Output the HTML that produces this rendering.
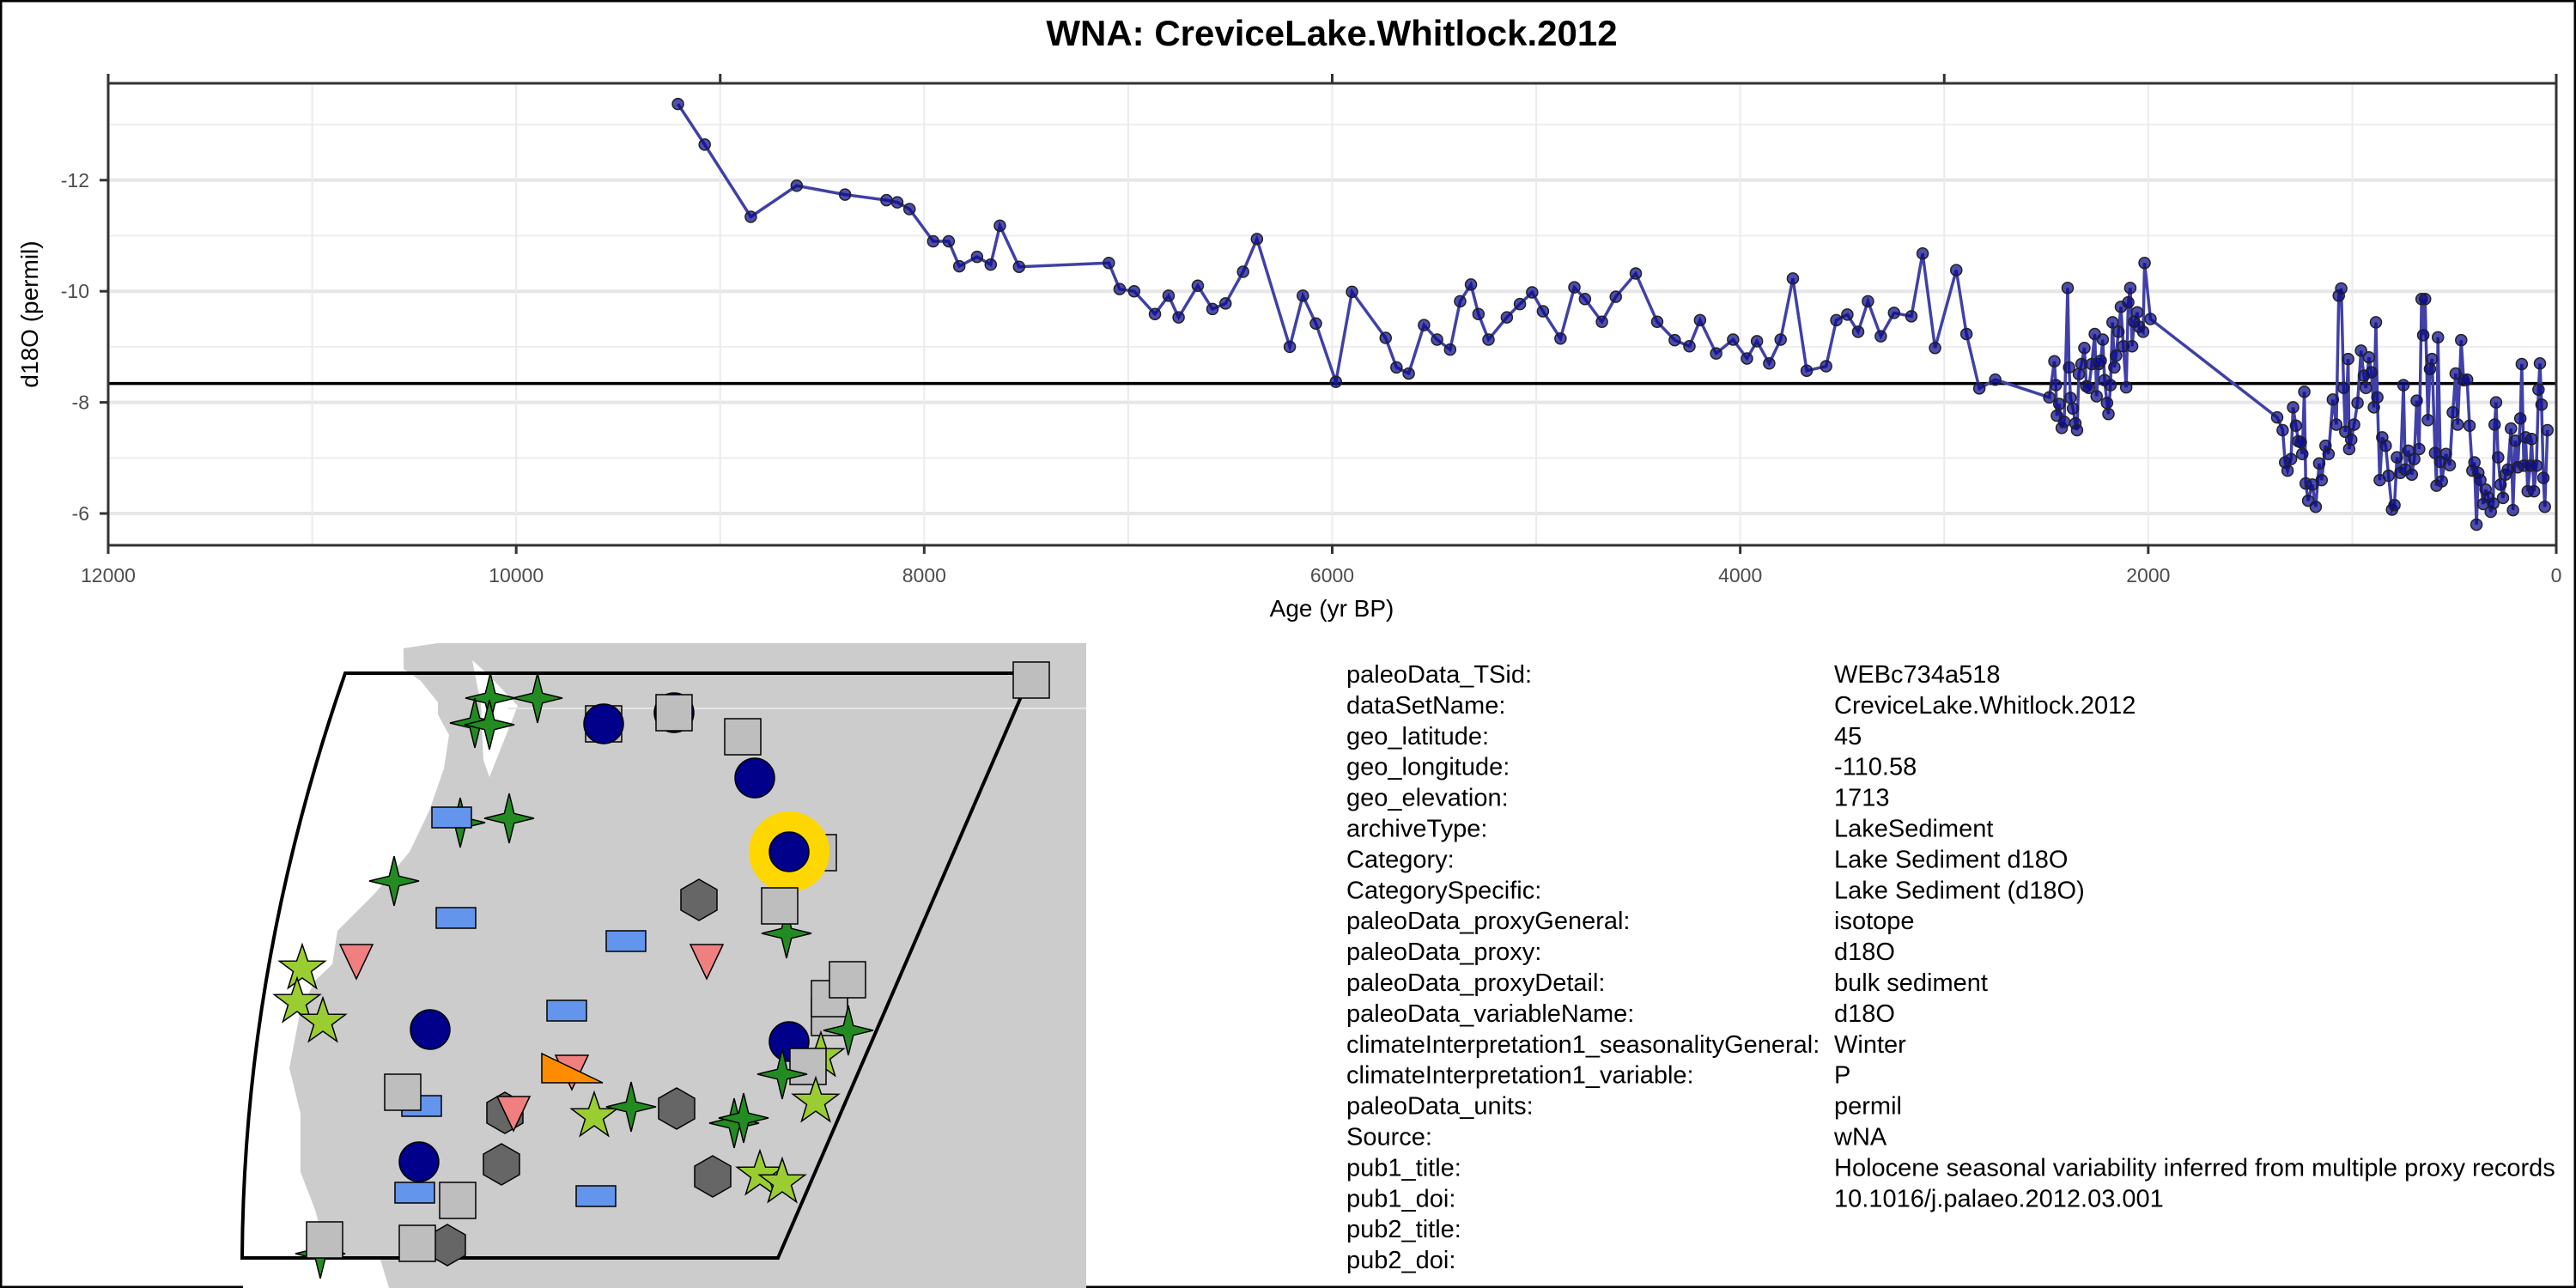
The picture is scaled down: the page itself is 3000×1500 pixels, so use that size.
<!DOCTYPE html>
<html><head><meta charset="utf-8"><style>
html,body{margin:0;padding:0;background:#fff}
svg{display:block}
text{font-family:"Liberation Sans",Arial,sans-serif}
</style></head><body>
<svg id="root" width="3000" height="1500" viewBox="0 0 3000 1500" xmlns="http://www.w3.org/2000/svg">
<rect x="1" y="1" width="2998" height="1498" fill="#fff" stroke="#000" stroke-width="3"/>
<text x="1551" y="53" font-size="42" font-weight="bold" text-anchor="middle">WNA: CreviceLake.Whitlock.2012</text>
<g id="grid"></g>
<g id="refline"></g>
<g id="series"></g>
<g id="axes"></g>
<text x="1551" y="718" font-size="28" text-anchor="middle" fill="#000">Age (yr BP)</text>
<text transform="translate(44,366) rotate(-90)" font-size="28" text-anchor="middle" fill="#000">d18O (permil)</text>

<g id="map">
<rect x="283" y="749" width="982" height="751" fill="#cccccc"/>
<polygon points="283,749 510,749 470,755 470,779 490,793 510,818 510,832 523,856 517,895 500,944 477,992 437,1040 393,1084 387,1123 367,1142 350,1176 337,1244 350,1297 350,1365 367,1409 383,1467 443,1467 453,1500 283,1500" fill="#ffffff"/>
<polygon points="550,769 567,784 603,822 570,905 563,885 560,820" fill="#ffffff"/>
<line x1="592" y1="825" x2="1265" y2="825" stroke="#e6e6e6" stroke-width="2"/>
<path d="M402,784 L1201,784 L906,1465 L282,1465 Q284,1124 402,784 Z" fill="none" stroke="#000" stroke-width="4"/>
<g id="markers"></g>
</g>

<g id="meta" font-size="29" fill="#000"></g>
</svg>
<script>
// ---- chart data ----
const ages = [9207,9076,8850,8625,8388,8185,8132,8072,7956,7880,7828,7741,7674,7629,7535,7095,7042,6971,6869,6802,6753,6659,6587,6523,6437,6369,6208,6144,6080,5982,5903,5738,5685,5625,5550,5486,5422,5373,5320,5283,5234,5144,5080,5020,4967,4881,4813,4761,4678,4610,4512,4407,4321,4249,4197,4118,4035,3967,3918,3858,3802,3742,3674,3579,3529,3475,3422,3374,3311,3246,3161,3106,3045,2941,2891,2828,2750,2485,2460,2453,2448,2436,2424,2412,2395,2388,2381,2369,2357,2349,2340,2327,2313,2303,2291,2277,2262,2253,2243,2233,2223,2214,2202,2195,2185,2175,2166,2158,2146,2134,2122,2108,2098,2088,2079,2069,2054,2045,2025,2018,1989,1368,1341,1329,1317,1300,1290,1276,1264,1252,1245,1235,1228,1216,1196,1179,1162,1150,1131,1116,1095,1078,1066,1054,1042,1034,1020,1015,1005,991,974,957,943,933,918,906,894,884,877,865,853,836,822,805,793,781,764,749,740,725,708,696,684,672,660,652,643,629,619,609,594,587,580,568,561,541,522,507,493,483,466,454,437,425,411,401,391,382,372,358,346,333,321,309,302,295,285,273,261,249,237,222,212,201,189,176,169,159,150,140,128,121,109,97,87,80,72,63,56,43];
const values = [-13.37,-12.64,-11.34,-11.90,-11.74,-11.64,-11.60,-11.48,-10.90,-10.90,-10.45,-10.62,-10.48,-11.18,-10.44,-10.51,-10.04,-10.00,-9.59,-9.92,-9.53,-10.10,-9.68,-9.78,-10.35,-10.94,-9.00,-9.92,-9.42,-8.37,-9.99,-9.16,-8.63,-8.52,-9.39,-9.13,-8.95,-9.82,-10.12,-9.59,-9.13,-9.53,-9.77,-9.98,-9.64,-9.15,-10.07,-9.86,-9.45,-9.90,-10.32,-9.45,-9.12,-9.01,-9.48,-8.88,-9.13,-8.79,-9.10,-8.70,-9.13,-10.23,-8.57,-8.65,-9.48,-9.58,-9.27,-9.82,-9.19,-9.61,-9.55,-10.68,-8.98,-10.38,-9.23,-8.25,-8.41,-8.09,-8.74,-8.31,-7.76,-7.97,-7.54,-7.65,-10.06,-8.63,-8.08,-7.89,-7.62,-7.50,-8.51,-8.69,-8.98,-8.29,-8.26,-8.69,-9.23,-8.11,-8.69,-8.75,-9.13,-8.40,-7.99,-7.79,-8.31,-9.44,-8.63,-8.84,-9.27,-9.72,-9.01,-8.27,-9.80,-10.06,-9.01,-9.45,-9.62,-9.36,-9.27,-10.51,-9.50,-7.73,-7.50,-6.92,-6.77,-6.98,-7.91,-7.58,-7.30,-7.28,-7.07,-8.19,-6.54,-6.23,-6.52,-6.12,-6.90,-6.60,-7.22,-7.07,-8.05,-7.60,-9.92,-10.05,-8.26,-7.47,-8.78,-7.16,-7.33,-7.60,-7.99,-8.93,-8.48,-8.26,-8.81,-8.54,-7.91,-9.44,-8.09,-6.60,-7.37,-7.22,-6.68,-6.07,-6.15,-7.01,-6.73,-8.31,-6.79,-7.13,-6.70,-6.98,-8.03,-7.16,-9.86,-9.21,-9.86,-7.68,-8.60,-8.78,-7.09,-6.50,-9.17,-6.93,-6.58,-7.07,-6.87,-7.82,-8.52,-7.60,-9.12,-8.40,-8.41,-7.58,-6.77,-6.92,-5.80,-6.73,-6.60,-6.17,-6.43,-6.29,-6.03,-6.18,-7.60,-8.00,-7.01,-6.52,-6.28,-6.70,-6.79,-7.53,-6.06,-7.31,-6.83,-7.71,-8.69,-6.86,-7.37,-6.40,-6.86,-7.34,-6.40,-6.86,-8.23,-8.70,-7.96,-6.64,-6.12,-7.50];
const refValue = [-8.34];
const xTicks = [12000,10000,8000,6000,4000,2000,0];
const xTopTicks = [12000,9000,6000,3000,0];
const xGrid = [12000,11000,10000,9000,8000,7000,6000,5000,4000,3000,2000,1000,0];
const yTicks = [-12,-10,-8,-6];
const yMinor = [-13,-11,-9,-7];

const NS='http://www.w3.org/2000/svg';
const L=126,R=2977,T=97,B=635;
function x(a){return R-(a/12000)*(R-L);}
function y(v){return 598+(v+6)*64.7;}
function mk(tag,parent){const e=document.createElementNS(NS,tag);parent.appendChild(e);return e;}

const grid=document.getElementById('grid');
yMinor.forEach(v=>{const l=mk('line',grid);


l.setAttribute('x1',L);l.setAttribute('x2',R);l.setAttribute('y1',y(v));l.setAttribute('y2',y(v));l.setAttribute('stroke','#ededed');l.setAttribute('stroke-width','2');});
yTicks.forEach(v=>{const l=mk('line',grid);


l.setAttribute('x1',L);l.setAttribute('x2',R);l.setAttribute('y1',y(v));l.setAttribute('y2',y(v));l.setAttribute('stroke','#e6e6e6');l.setAttribute('stroke-width','4');});
xGrid.forEach(a=>{const l=mk('line',grid);


l.setAttribute('x1',x(a));l.setAttribute('x2',x(a));l.setAttribute('y1',T);l.setAttribute('y2',B);l.setAttribute('stroke','#ebebeb');l.setAttribute('stroke-width','2');});

const rg=document.getElementById('refline');
refValue.forEach(v=>{const l=mk('line',rg);


l.setAttribute('x1',L);l.setAttribute('x2',R);l.setAttribute('y1',y(v));l.setAttribute('y2',y(v));l.setAttribute('stroke','#000');l.setAttribute('stroke-width','3.5');});

const sg=document.getElementById('series');
const pl=mk('polyline',sg);


pl.setAttribute('points',ages.map((a,i)=>x(a)+','+y(values[i])).join(' '));
pl.setAttribute('fill','none');pl.setAttribute('stroke','#4040a8');pl.setAttribute('stroke-width','3.5');
ages.forEach((a,i)=>{const c=mk('circle',sg);


c.setAttribute('cx',x(a));c.setAttribute('cy',y(values[i]));c.setAttribute('r','6.5');c.setAttribute('fill','rgba(10,10,140,0.72)');c.setAttribute('stroke','#222');c.setAttribute('stroke-width','1.5');});

const ax=document.getElementById('axes');
const box=mk('rect',ax);


box.setAttribute('x',L);box.setAttribute('y',T);box.setAttribute('width',R-L);box.setAttribute('height',B-T);box.setAttribute('fill','none');box.setAttribute('stroke','#333');box.setAttribute('stroke-width','3');
xTicks.forEach(a=>{const t=mk('line',ax);


t.setAttribute('x1',x(a));t.setAttribute('x2',x(a));t.setAttribute('y1',B);t.setAttribute('y2',B+10);t.setAttribute('stroke','#333');t.setAttribute('stroke-width','3');
const s=mk('text',ax);


s.setAttribute('x',x(a));s.setAttribute('y',678);s.setAttribute('font-size','23');s.setAttribute('fill','#4d4d4d');s.setAttribute('text-anchor','middle');s.textContent=String(a);});
xTopTicks.forEach(a=>{const t=mk('line',ax);


t.setAttribute('x1',x(a));t.setAttribute('x2',x(a));t.setAttribute('y1',T);t.setAttribute('y2',T-11);t.setAttribute('stroke','#333');t.setAttribute('stroke-width','3');});
yTicks.forEach(v=>{const t=mk('line',ax);


t.setAttribute('x1',L-10);t.setAttribute('x2',L);t.setAttribute('y1',y(v));t.setAttribute('y2',y(v));t.setAttribute('stroke','#333');t.setAttribute('stroke-width','3');
const s=mk('text',ax);


s.setAttribute('x',104);s.setAttribute('y',y(v)+8);s.setAttribute('font-size','23');s.setAttribute('fill','#4d4d4d');s.setAttribute('text-anchor','end');s.textContent=String(v);});

// ---- map markers ----
const mg=document.getElementById('markers');
const markerList=[
['sq',1201,792],['s4',571,813],['s4',626,813],['s4',553,842],['s4',570,844],
['sq',703,843],['ci',703,843],['ci',785,830],['sq',785,830],['sq',865,858],['ci',879,906],
['sq',953,993],['gold',919,992],['ci',919,992],
['s4',536,958],['rc',526,952],['s4',593,953],['s4',459,1026],['hx',814,1048],
['s4',916,1087],['sq',908,1055],['rc',531,1069],['rc',729,1096],
['tr',415,1118],['tr',823,1118],['s5',352,1128],['s5',346,1167],['s5',376,1190],
['ci',501,1199],['rc',660,1177],['sq',966,1185],['sq',966,1163],['sq',987,1141],
['s4',988,1200],['ci',919,1213],['s5',956,1230],['sq',941,1242],['s4',911,1251],
['tr',666,1247],['or',0,0],['rc',491,1288],['sq',469,1272],['hx',588,1296],['tr',598,1295],
['s5',692,1300],['s4',735,1289],['hx',788,1291],['s4',855,1308],['s4',866,1302],['s5',950,1283],
['ci',488,1353],['hx',584,1356],['hx',830,1370],['s5',885,1368],['s5',911,1377],
['rc',483,1389],['sq',533,1398],['rc',694,1393],['s4',373,1460],['sq',378,1444],['hx',521,1450],['sq',486,1448]];
function star(cx,cy,n,Ro,Ri){let p=[];for(let k=0;k<2*n;k++){const ang=-Math.PI/2+k*Math.PI/n;const r=k%2?Ri:Ro;p.push((cx+r*Math.cos(ang)).toFixed(1)+','+(cy+r*Math.sin(ang)).toFixed(1));}return p.join(' ');}
markerList.forEach(m=>{const [t,cx,cy]=m;let e;
if(t==='ci'){e=mk('circle',mg);e.setAttribute('cx',cx);e.setAttribute('cy',cy);e.setAttribute('r',23);e.setAttribute('fill','#00008b');e.setAttribute('stroke','#000');e.setAttribute('stroke-width','1.5');
}
else if(t==='gold'){e=mk('circle',mg);e.setAttribute('cx',cx);e.setAttribute('cy',cy);e.setAttribute('r',47);e.setAttribute('fill','#ffd700');
}
else if(t==='sq'){e=mk('rect',mg);e.setAttribute('x',cx-21);e.setAttribute('y',cy-21);e.setAttribute('width',42);e.setAttribute('height',42);e.setAttribute('fill','#bebebe');e.setAttribute('stroke','#000');e.setAttribute('stroke-width','1.5');
}
else if(t==='rc'){e=mk('rect',mg);e.setAttribute('x',cx-23);e.setAttribute('y',cy-12);e.setAttribute('width',46);e.setAttribute('height',24);e.setAttribute('fill','#6495ed');e.setAttribute('stroke','#000');e.setAttribute('stroke-width','1.5');
}
else if(t==='hx'){e=mk('polygon',mg);e.setAttribute('points',[[0,-24],[21,-12],[21,12],[0,24],[-21,12],[-21,-12]].map(p=>(cx+p[0])+','+(cy+p[1])).join(' '));e.setAttribute('fill','#666');e.setAttribute('stroke','#000');e.setAttribute('stroke-width','1.5');
}
else if(t==='tr'){e=mk('polygon',mg);e.setAttribute('points',[[-19,-18],[19,-18],[0,22]].map(p=>(cx+p[0])+','+(cy+p[1])).join(' '));e.setAttribute('fill','#f08080');e.setAttribute('stroke','#000');e.setAttribute('stroke-width','1.5');
}
else if(t==='or'){e=mk('polygon',mg);e.setAttribute('points','631,1227 631,1261 702,1261');e.setAttribute('fill','#ff8c00');e.setAttribute('stroke','#000');e.setAttribute('stroke-width','1.5');
}
else if(t==='s4'){e=mk('polygon',mg);e.setAttribute('points',star(cx,cy,4,29,8));e.setAttribute('fill','#228b22');e.setAttribute('stroke','#000');e.setAttribute('stroke-width','1.5');
}
else {e=mk('polygon',mg);e.setAttribute('points',star(cx,cy,5,28,11));e.setAttribute('fill','#9acd32');e.setAttribute('stroke','#000');e.setAttribute('stroke-width','1.5');
}

});

// ---- metadata table ----
const metaKeys=['paleoData_TSid:','dataSetName:','geo_latitude:','geo_longitude:','geo_elevation:','archiveType:','Category:','CategorySpecific:','paleoData_proxyGeneral:','paleoData_proxy:','paleoData_proxyDetail:','paleoData_variableName:','climateInterpretation1_seasonalityGeneral:','climateInterpretation1_variable:','paleoData_units:','Source:','pub1_title:','pub1_doi:','pub2_title:','pub2_doi:'];
const metaVals=['WEBc734a518','CreviceLake.Whitlock.2012','45','-110.58','1713','LakeSediment','Lake Sediment d18O','Lake Sediment (d18O)','isotope','d18O','bulk sediment','d18O','Winter','P','permil','wNA','Holocene seasonal variability inferred from multiple proxy records','10.1016/j.palaeo.2012.03.001','',''];
const meta=document.getElementById('meta');
metaKeys.forEach((k,i)=>{const a=mk('text',meta);


a.setAttribute('x',1568);a.setAttribute('y',795+i*35.9);a.textContent=k;
if(metaVals[i]){const b=mk('text',meta);


b.setAttribute('x',2136);b.setAttribute('y',795+i*35.9);b.textContent=metaVals[i];}});
</script>
</body></html>
